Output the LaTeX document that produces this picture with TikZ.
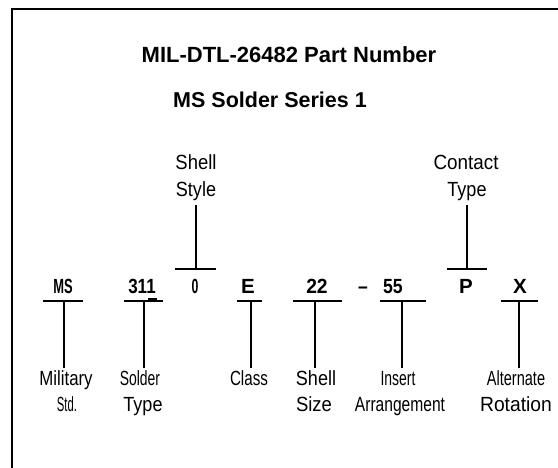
\documentclass[tikz,border=0pt]{standalone}
\usepackage{fontspec}
\setmainfont{Liberation Sans}
\newcommand\sxx[2]{\scalebox{#1}[1]{#2}}
\begin{document}
\begin{tikzpicture}[x=1pt,y=-1pt,
  frame/.style={line width=1.5pt},
  bar/.style={line width=1.4pt},
  stem/.style={line width=1.2pt},
  title/.style={font=\bfseries\fontsize{22}{26}\selectfont,anchor=base,inner sep=0pt},
  part/.style={font=\bfseries\fontsize{20.5}{24}\selectfont,anchor=base,inner sep=0pt},
  lbl/.style={font=\fontsize{20.5}{24}\selectfont,anchor=base,inner sep=0pt}]
\useasboundingbox (0,0) rectangle (558,468);
% frame
\coordinate (fTR) at (558,9);
\coordinate (fTL) at (12,9);
\coordinate (fBL) at (12,468);
\draw[frame] (fTR) -- (fTL) -- (fBL);
% titles
\node[title] (t1) at (289,63) {MIL-DTL-26482 Part Number};
\node[title,font=\bfseries\fontsize{21.5}{26}\selectfont] (t2) at (270,108) {MS Solder Series 1};
% part number row
\node[part] (pMS) at (63,294) {\sxx{0.63}{MS}};
\node[part] (p311) at (142,294) {\sxx{0.83}{311}};
\node[part] (p0) at (195,294) {\sxx{0.6}{0}};
\node[part] (pE) at (248,294) {E};
\node[part] (p22) at (317,294) {\sxx{0.94}{22}};
\node[part] (pdash) at (363,294) {\sxx{0.85}{–}};
\node[part] (p55) at (393,294) {\sxx{0.86}{55}};
\node[part] (pP) at (466,294) {P};
\node[part] (pX) at (520,294) {X};
% upper labels
\node[lbl] (uShell) at (196,170) {\sxx{0.9}{Shell}};
\node[lbl] (uStyle) at (196,197) {\sxx{0.88}{Style}};
\node[lbl] (uContact) at (466,170) {\sxx{0.92}{Contact}};
\node[lbl] (uType) at (467,197) {\sxx{0.88}{Type}};
% upper connectors
\coordinate (ssTop) at (196,205); \coordinate (ssBot) at (196,269);
\coordinate (ssL) at (175,269); \coordinate (ssR) at (216,269);
\draw[stem] (ssTop) -- (ssBot);
\draw[bar] (ssL) -- (ssR);
\coordinate (ctTop) at (467,205); \coordinate (ctBot) at (467,269);
\coordinate (ctL) at (447,269); \coordinate (ctR) at (487,269);
\draw[stem] (ctTop) -- (ctBot);
\draw[bar] (ctL) -- (ctR);
% lower labels
\node[lbl] (lMil) at (66,385) {\sxx{0.82}{Military}};
\node[lbl] (lStd) at (67,412) {\sxx{0.55}{Std.}};
\node[lbl] (lSolder) at (140,385) {\sxx{0.68}{Solder}};
\node[lbl] (lSType) at (143,412) {\sxx{0.88}{Type}};
\node[lbl] (lClass) at (249,385) {\sxx{0.74}{Class}};
\node[lbl] (lShell) at (316,385) {\sxx{0.88}{Shell}};
\node[lbl] (lSize) at (314,412) {\sxx{0.9}{Size}};
\node[lbl] (lInsert) at (398,386) {\sxx{0.68}{Insert}};
\node[lbl] (lArr) at (400,412) {\sxx{0.76}{Arrangement}};
\node[lbl] (lAlt) at (516,386) {\sxx{0.71}{Alternate}};
\node[lbl] (lRot) at (516,412) {\sxx{0.94}{Rotation}};
% lower connectors
\foreach \n/\l/\r/\c in {ms/43/83/64, so/124/163/144, cl/237/262/251, sz/293/342/315, ia/380/426/402, ar/501/538/519}{
  \coordinate (\n L) at (\l,301);
  \coordinate (\n R) at (\r,301);
  \coordinate (\n T) at (\c,301);
  \coordinate (\n B) at (\c,368);
  \draw[bar] (\n L) -- (\n R);
  \draw[stem] (\n T) -- (\n B);
}
% small mark under 311
\coordinate (mkL) at (148,299); \coordinate (mkR) at (157,299);
\draw[line width=2pt] (mkL) -- (mkR);
\end{tikzpicture}
\end{document}
